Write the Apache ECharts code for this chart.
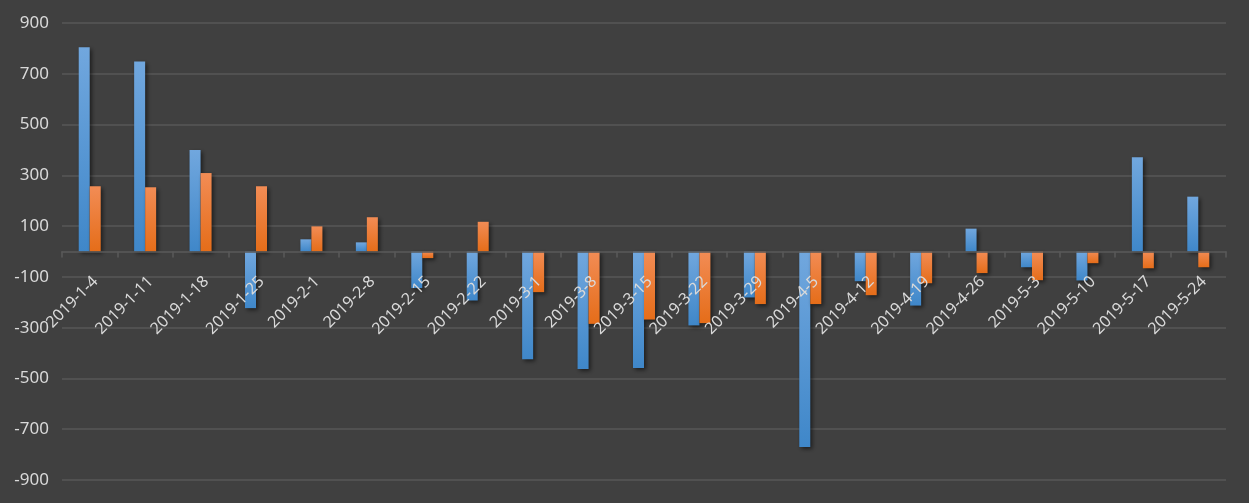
<!DOCTYPE html>
<html>
<head>
<meta charset="utf-8">
<script src="https://cdn.jsdelivr.net/npm/echarts@6/dist/echarts.min.js"></script>
<style>
html,body{margin:0;padding:0;background:#404040;}
#c{width:1249px;height:503px;}
</style>
</head>
<body>
<div id="c"></div>
<script>
const categories = ['2019-1-4','2019-1-11','2019-1-18','2019-1-25','2019-2-1','2019-2-8','2019-2-15','2019-2-22','2019-3-1','2019-3-8','2019-3-15','2019-3-22','2019-3-29','2019-4-5','2019-4-12','2019-4-19','2019-4-26','2019-5-3','2019-5-10','2019-5-17','2019-5-24'];
const seriesA = [804, 748, 400, -223, 48, 36, -144, -193, -424, -463, -459, -291, -181, -770, -117, -213, 90, -62, -114, 371, 216];
const seriesB = [257, 253, 309, 257, 99, 135, -26, 117, -160, -285, -268, -282, -207, -207, -172, -125, -85, -113, -46, -66, -62];

const chart = echarts.init(document.getElementById('c'));
const grad = (a, b) => new echarts.graphic.LinearGradient(0, 0, 0, 1, [{offset: 0, color: a}, {offset: 1, color: b}]);
const shadow = {shadowColor: 'rgba(0,0,0,0.55)', shadowBlur: 4, shadowOffsetX: 2, shadowOffsetY: 2};
chart.setOption({
  backgroundColor: '#404040',
  animation: false,
  grid: {left: 62, right: 23, top: 23, bottom: 23, containLabel: false, outerBoundsMode: 'none'},
  xAxis: {
    type: 'category',
    data: categories,
    position: 'bottom',
    offset: -228.5,
    z: 5,
    axisLine: {onZero: false, lineStyle: {color: '#5a5a5a', width: 1.5}},
    axisTick: {show: true, length: 6, lineStyle: {color: '#5a5a5a', width: 1.5}},
    axisLabel: {rotate: 45, interval: 0, margin: 22, verticalAlign: 'top', align: 'right',
                color: '#d9d9d9', fontFamily: 'Noto Sans', fontSize: 16, hideOverlap: false}
  },
  yAxis: {
    type: 'value',
    min: -900, max: 900, interval: 100,
    axisLine: {show: false},
    axisTick: {show: false},
    axisLabel: {
      color: '#d9d9d9', fontFamily: 'Noto Sans', fontSize: 17, margin: 13,
      formatter: v => (Math.abs(v) % 200 === 100 ? String(v) : '')
    },
    splitLine: {lineStyle: {color: ['#575757', 'rgba(0,0,0,0)'], width: 1.5}}
  },
  series: [
    {name: 'A', type: 'bar', data: seriesA, barWidth: 11, barGap: '0%', z: 2,
     itemStyle: Object.assign({color: grad('#71a7de', '#3f87c9')}, shadow)},
    {name: 'B', type: 'bar', data: seriesB, barWidth: 11, barGap: '0%', z: 2,
     itemStyle: Object.assign({color: grad('#f28c55', '#e56d19')}, shadow)}
  ]
});
</script>
</body>
</html>
